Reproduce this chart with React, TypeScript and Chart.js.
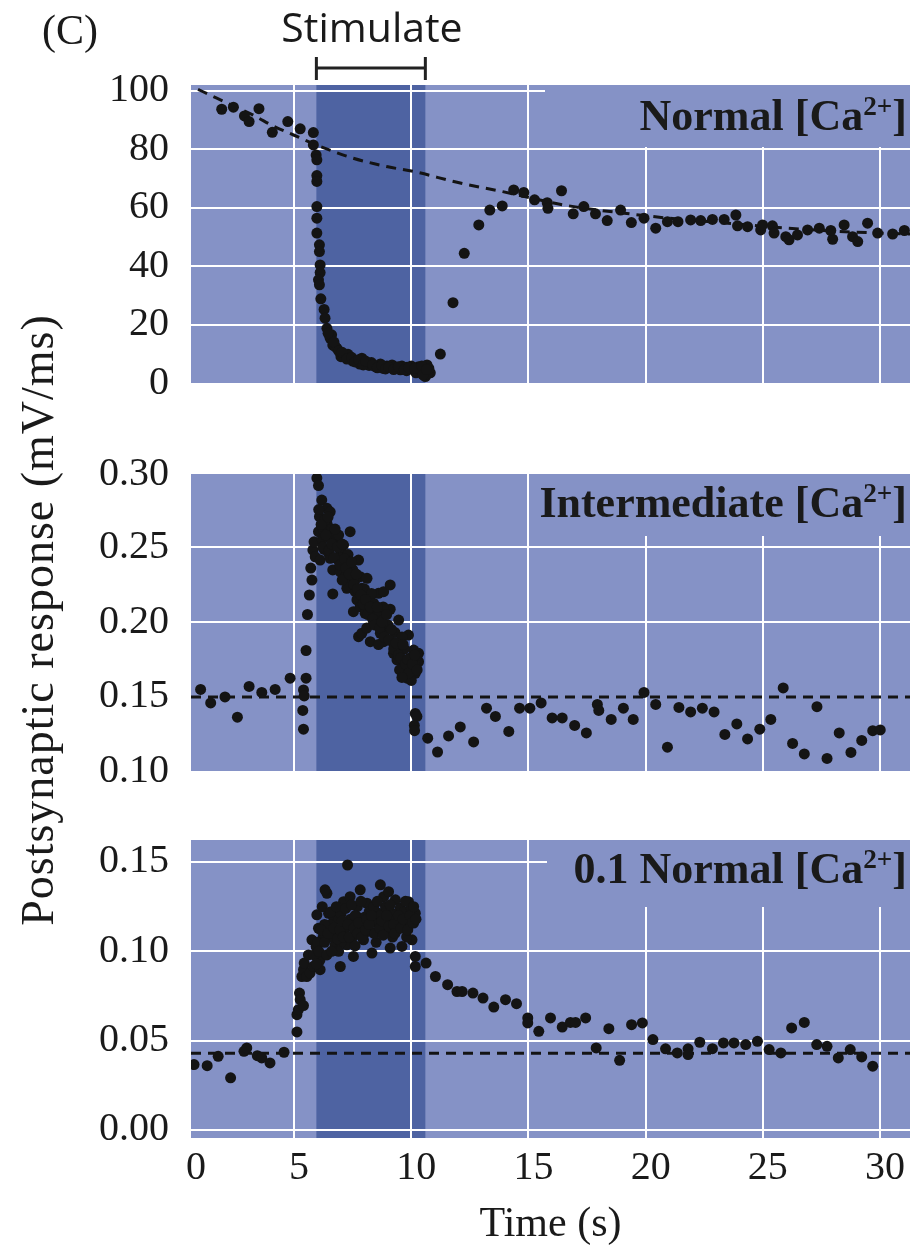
import React, { useEffect, useRef } from 'react';
import { Chart, registerables } from 'chart.js';

Chart.register(...registerables);

// ---------- shared time axis ----------
const TIME_MIN = 0.6;
const TIME_MAX = 31.28;
const TIME_TICKS = [0, 5, 10, 15, 20, 25, 30];
const STIM_START = 5.95;
const STIM_END = 10.6;

// ---------- Panel 1: Normal [Ca2+] ----------
const NORMAL_Y_MIN = 0;
const NORMAL_Y_MAX = 102;
const NORMAL_Y_TICKS = [0, 20, 40, 60, 80, 100];
const NORMAL_T = [
  1.91, 2.41, 2.88, 3.08, 3.5, 4.07, 4.73, 5.26, 5.82,
  5.82, 5.94, 5.97, 5.97, 5.97, 5.97, 5.97, 5.97, 6.08, 6.08, 6.11, 6.11, 6.04, 6.08, 6.14, 6.28, 6.32, 6.4, 6.54, 6.65,
  6.82, 6.97, 7.18, 7.39, 7.68, 7.89, 8.11, 8.46, 8.68, 8.96, 9.18, 9.53, 9.82, 10.1, 10.31, 10.53, 10.67, 10.81, 10.6,
  6.6, 6.75, 7.0, 7.3, 7.5, 7.8, 8.2, 8.3, 8.8, 9.3, 9.6, 9.8, 10.0, 10.2, 10.4, 10.7, 10.75,
  6.45, 6.7, 6.9, 7.05, 7.25, 7.45, 7.6, 7.75, 7.95, 8.05, 8.35, 8.55, 8.75, 8.9, 9.05, 9.25, 9.45, 9.7, 9.9, 10.15, 10.45, 10.5, 10.65,
  11.24, 11.78, 12.26, 12.88, 13.35, 13.88, 14.37, 14.8, 15.26, 15.8, 15.83, 16.41, 16.91, 17.36, 17.86, 18.36, 18.93,
  19.39, 19.93, 20.43, 20.93, 21.38, 21.92, 22.35, 22.85, 23.35, 23.85, 23.92, 24.35, 24.91, 24.99, 25.41, 25.48, 25.98,
  26.12, 26.48, 26.91, 27.41, 27.98, 27.9, 28.47, 28.83, 29.05, 29.47, 29.9, 30.54, 31.04,
];
const NORMAL_R = [
  93.7, 94.4, 91.4, 89.5, 93.9, 85.8, 89.5, 87, 85.7,
  81.5, 78, 76.4, 71, 69, 60.4, 56.4, 51.3, 47.3, 45, 40.4, 37.8, 35.3, 33.6, 28.8, 25.2, 22.2, 18.7, 15.3, 13,
  11.9, 10.2, 9.6, 8.5, 7.3, 8.5, 6.7, 5.6, 6.5, 5.8, 6.2, 4.5, 5.4, 4.5, 5.6, 3.9, 6.2, 3.5, 2.2,
  16.5, 12.5, 9, 9.8, 7.5, 6.5, 6, 7.0, 5, 5.5, 5.8, 4.2, 5.8, 3.5, 4.5, 3.2, 5.0,
  17, 14, 11, 10.5, 8.2, 8.8, 7.2, 8, 6.2, 7.5, 6.2, 5.2, 6.0, 4.8, 5.4, 4.6, 5.6, 4.6, 5.2, 5.0, 5.8, 2.8, 4.6,
  9.9, 27.5, 44.4, 54.1, 59.2, 60.6, 66.1, 65.2, 62.7, 61.7, 59.8, 65.8, 57.9, 60.4, 57.9, 55.6, 59.2,
  54.9, 56.4, 53, 55.2, 55.2, 55.8, 55.6, 56, 56, 57.5, 53.8, 53.5, 52.4, 54.1, 53.8, 51.3, 50.1,
  49, 50.7, 52.4, 53, 49.2, 52.2, 54.1, 50.1, 48.4, 54.7, 51.3, 51, 52.2,
];
const NORMAL_FIT_T = [0.9, 1.7, 2.5, 3.3, 4.1, 5, 6.1, 7.5, 9, 10.1, 12, 13.9, 16.6, 19.2, 21.5, 23.5, 26, 28, 30, 31.28];
const NORMAL_FIT_R = [100.5, 97.5, 94.5, 91.5, 88, 84.8, 81, 77, 74, 72.4, 68.6, 65.5, 60.8, 58, 56, 54.7, 53, 52, 51.3, 51];

// ---------- Panel 2: Intermediate [Ca2+] ----------
const INTER_Y_MIN = 0.0993;
const INTER_Y_MAX = 0.2987;
const INTER_Y_TICKS = [0.1, 0.15, 0.2, 0.25, 0.3];
const INTER_BASELINE = 0.15;
const INTER_T = [
  1.01, 1.44, 2.05, 2.58, 3.08, 3.62, 4.19, 4.83, 5.4, 5.43, 5.37, 5.4, 5.51, 5.51, 5.57, 5.65, 5.76, 5.71, 5.8, 5.85, 5.97, 6.04,
  6.18, 6.4, 6.54, 6.08, 6.04, 6.4, 6.25, 6.54, 5.9, 6.11, 6.28, 6.47, 6.68, 6.82, 7.11, 7.39, 6.97, 6.54, 6.89, 7.25, 7.75,
  6.65, 6.97, 7.18, 7.39, 7.82, 8.11, 6.65, 7.25, 7.61, 7.68, 7.89, 7.53, 7.82, 8.03, 8.18, 8.39, 8.6, 8.82, 9.1, 7.75, 7.89,
  8.25, 8.39, 8.68, 9.1, 8.68, 8.96, 9.46, 8.82, 9.24, 9.88, 9.24, 9.53, 10.1, 9.39, 9.67, 10.1, 10.31, 9.82, 10.17, 9.82, 10.03, 10.31,
  6.3, 6.6, 6.9, 7.0, 7.3, 7.5, 7.6, 8.0, 8.3, 8.5, 8.8, 9.0, 9.3, 9.6, 9.7, 9.95, 10.2, 10.25, 9.5, 10.0, 6.2, 7.05, 8.1, 8.6,
  6.05, 6.15, 6.22, 6.35, 6.45, 6.5, 6.6, 6.7, 6.75, 6.85, 6.95, 7.05, 7.15, 7.2, 7.35, 7.45, 7.55, 7.65, 7.7, 7.85, 7.95,
  8.05, 8.15, 8.25, 8.35, 8.45, 8.55, 8.65, 8.75, 8.85, 8.95, 9.05, 9.15, 9.25, 9.35, 9.45, 9.55, 9.65, 9.75, 9.85, 9.9,
  10.05, 10.15, 10.25, 9.6,
  10.17, 10.24, 10.13, 10.14, 10.7, 11.12, 11.59, 12.09, 12.66, 13.21, 13.59, 14.16, 14.62, 15.06, 15.54, 16.01, 16.44, 16.97,
  17.47, 17.94, 18.0, 18.53, 19.05, 19.47, 19.93, 20.43, 20.93, 21.42, 21.92, 22.42, 22.92, 23.38, 23.89, 24.35, 24.87, 25.34,
  25.87, 26.27, 26.77, 27.31, 27.74, 28.26, 28.76, 29.22, 29.69, 30.01,
];
const INTER_R = [
  0.155, 0.146, 0.15, 0.1365, 0.157, 0.153, 0.155, 0.1625, 0.1547, 0.1507, 0.141, 0.1285, 0.1625, 0.181, 0.205, 0.218, 0.228, 0.236, 0.248, 0.2535, 0.296, 0.291,
  0.2813, 0.2758, 0.2735, 0.2702, 0.2602, 0.2658, 0.2613, 0.2569, 0.2435, 0.2413, 0.2485, 0.2458, 0.2513, 0.2547, 0.2513, 0.2602, 0.248, 0.2425, 0.2413, 0.2391, 0.2413,
  0.2347, 0.2335, 0.2302, 0.2269, 0.2302, 0.2291, 0.2187, 0.2225, 0.2202, 0.2147, 0.2225, 0.2069, 0.2102, 0.2058, 0.2158, 0.2125, 0.2191, 0.2202, 0.2247, 0.1902, 0.1925,
  0.1869, 0.1991, 0.2035, 0.2085, 0.1925, 0.1958, 0.2013, 0.1869, 0.1858, 0.1913, 0.1791, 0.1825, 0.1813, 0.1747, 0.1725, 0.1747, 0.1735, 0.168, 0.1658, 0.1625, 0.1692, 0.1791,
  0.268, 0.262, 0.258, 0.243, 0.245, 0.235, 0.228, 0.222, 0.219, 0.207, 0.21, 0.198, 0.193, 0.19, 0.182, 0.176, 0.17, 0.178, 0.168, 0.161, 0.255, 0.228, 0.196, 0.185,
  0.275, 0.265, 0.25, 0.258, 0.27, 0.248, 0.252, 0.243, 0.262, 0.25, 0.238, 0.252, 0.242, 0.236, 0.232, 0.24, 0.225, 0.232, 0.222, 0.218, 0.212,
  0.215, 0.205, 0.21, 0.202, 0.198, 0.21, 0.196, 0.2, 0.19, 0.205, 0.188, 0.195, 0.182, 0.186, 0.178, 0.176, 0.185, 0.172, 0.175, 0.166,
  0.172, 0.178, 0.168, 0.163,
  0.139, 0.137, 0.131, 0.1275, 0.1225, 0.1133, 0.124, 0.13, 0.12, 0.1425, 0.137, 0.127, 0.1425, 0.1425, 0.146, 0.136, 0.136, 0.131,
  0.126, 0.145, 0.141, 0.135, 0.1425, 0.135, 0.153, 0.145, 0.1165, 0.143, 0.14, 0.1425, 0.14, 0.125, 0.132, 0.122, 0.1285, 0.135,
  0.156, 0.119, 0.112, 0.1435, 0.109, 0.126, 0.113, 0.121, 0.1275, 0.128,
];

// ---------- Panel 3: 0.1 Normal [Ca2+] ----------
const LOW_Y_MIN = -0.0045;
const LOW_Y_MAX = 0.1623;
const LOW_Y_TICKS = [0, 0.05, 0.1, 0.15];
const LOW_BASELINE = 0.043;
const LOW_T = [
  0.73, 1.29, 1.76, 2.29, 2.86, 2.98, 3.43, 3.62, 3.97, 4.57,
  5.12, 5.12, 5.18, 5.23, 5.26, 5.4, 5.33, 5.4, 5.43, 5.54, 5.61, 5.68, 5.82, 5.76, 5.94, 6.11, 5.97, 6.18, 6.25, 6.04,
  6.4, 6.32, 6.47, 6.68, 6.54, 6.82, 6.75, 6.97, 7.11, 7.25, 7.39, 7.28, 7.53, 7.82, 7.68, 7.96, 8.11, 8.32, 8.25, 8.39,
  8.68, 8.6, 8.82, 8.96, 9.03, 9.1, 9.32, 9.39, 9.53, 9.6, 9.74, 9.88, 9.96, 10.03, 10.1, 10.17, 10.17, 10.17,
  6.0, 6.3, 6.6, 6.9, 7.0, 7.2, 7.4, 7.5, 7.7, 7.9, 8.0, 8.2, 8.4, 8.5, 8.7, 8.9, 9.0, 9.2, 9.4, 9.5, 9.7, 9.8, 10.0,
  6.1, 6.9, 7.6, 8.5, 9.2, 6.2, 7.0, 9.9, 8.1,
  5.85, 5.95, 6.05, 6.15, 6.3, 6.4, 6.45, 6.55, 6.6, 6.7, 6.8, 6.85, 6.95, 7.05, 7.1, 7.2, 7.3, 7.35, 7.45, 7.55, 7.6, 7.7,
  7.75, 7.85, 7.9, 8.05, 8.1, 8.2, 8.3, 8.45, 8.55, 8.65, 8.75, 8.8, 8.95, 9.05, 9.1, 9.25, 9.3, 9.45, 9.55, 9.65, 9.75,
  9.85, 9.95, 10.05, 10.1, 10.2,
  10.63, 11.03, 11.55, 11.95, 12.17, 12.63, 13.06, 13.52, 14.02, 14.49, 14.97, 14.97, 15.44, 15.94, 16.44, 16.79, 17.01,
  17.44, 17.89, 18.43, 18.89, 19.4, 19.86, 20.31, 20.85, 21.35, 21.81, 21.81, 22.31, 22.85, 23.32, 23.77, 24.27, 24.77,
  25.27, 25.77, 26.23, 26.77, 27.3, 27.74, 28.22, 28.73, 29.22, 29.69,
];
const LOW_R = [
  0.0366, 0.036, 0.0412, 0.0292, 0.044, 0.0459, 0.0416, 0.0403, 0.0375, 0.0435,
  0.0549, 0.0645, 0.0673, 0.0766, 0.0729, 0.0696, 0.0859, 0.0897, 0.0934, 0.0859, 0.098, 0.0878, 0.0915, 0.1064, 0.1027, 0.0897, 0.1204, 0.098, 0.1083, 0.1129,
  0.1325, 0.1344, 0.1213, 0.1194, 0.1148, 0.111, 0.1036, 0.0915, 0.1278, 0.1036, 0.1306, 0.1483, 0.0971, 0.1344, 0.1194, 0.1064, 0.1269, 0.099, 0.1158, 0.1102,
  0.1372, 0.1213, 0.1306, 0.112, 0.1334, 0.1018, 0.1288, 0.1176, 0.1241, 0.1027, 0.1139, 0.1278, 0.1194, 0.1064, 0.1158, 0.1213, 0.0971, 0.0915,
  0.105, 0.115, 0.108, 0.118, 0.105, 0.113, 0.118, 0.108, 0.125, 0.115, 0.119, 0.122, 0.125, 0.116, 0.12, 0.125, 0.117, 0.121, 0.112, 0.116, 0.122, 0.108, 0.124,
  0.095, 0.1, 0.103, 0.105, 0.108, 0.125, 0.121, 0.115, 0.111,
  0.098, 0.093, 0.1, 0.112, 0.105, 0.098, 0.11, 0.122, 0.1, 0.113, 0.125, 0.107, 0.112, 0.117, 0.108, 0.124, 0.115, 0.108, 0.126, 0.113, 0.12, 0.11,
  0.116, 0.128, 0.108, 0.112, 0.118, 0.115, 0.12, 0.11, 0.128, 0.113, 0.117, 0.109, 0.12, 0.114, 0.126, 0.115, 0.11, 0.12, 0.113, 0.118, 0.128,
  0.112, 0.12, 0.116, 0.125, 0.118,
  0.0934, 0.0859, 0.0813, 0.0775, 0.0775, 0.0766, 0.0738, 0.0688, 0.0729, 0.0707, 0.0627, 0.0599, 0.0552, 0.0627, 0.0576, 0.0602, 0.0602,
  0.0627, 0.0459, 0.0567, 0.039, 0.0589, 0.0599, 0.0506, 0.0454, 0.0431, 0.0454, 0.0422, 0.0491, 0.0455, 0.0487, 0.0487, 0.0478, 0.0496,
  0.045, 0.0431, 0.0571, 0.0602, 0.0478, 0.0468, 0.0403, 0.045, 0.0409, 0.0357,
];

// ---------- style ----------
const SERIF = "'Liberation Serif', 'Times New Roman', serif";
const SANS = "'Open Sans', 'Liberation Sans', sans-serif";
const INK = '#1a1a1a';
const BG = '#8592c6';
const BAND = '#4e63a2';
const GRID = '#ffffff';
const TRANSPARENT = 'rgba(0,0,0,0)';

const clamp = (v: number, lo: number, hi: number) => Math.min(Math.max(v, lo), hi);
const zip = (xs: number[], ys: number[]) => xs.map((x, i) => ({ x, y: ys[i] }));

const decorPlugin = {
  id: 'decor',
  beforeDraw(chart: any, _args: any, opts: any) {
    const { ctx, chartArea: a, scales } = chart;
    ctx.save();
    ctx.fillStyle = BG;
    ctx.fillRect(a.left, a.top, a.right - a.left, a.bottom - a.top);
    const x0 = scales.x.getPixelForValue(STIM_START);
    const x1 = scales.x.getPixelForValue(STIM_END);
    ctx.fillStyle = BAND;
    ctx.fillRect(x0, a.top, x1 - x0, a.bottom - a.top);
    if (opts.bracket) {
      ctx.strokeStyle = '#222';
      ctx.lineWidth = 3;
      ctx.beginPath();
      ctx.moveTo(x0, a.top - 28);
      ctx.lineTo(x0, a.top - 5);
      ctx.moveTo(x1, a.top - 28);
      ctx.lineTo(x1, a.top - 5);
      ctx.moveTo(x0, a.top - 17);
      ctx.lineTo(x1, a.top - 17);
      ctx.stroke();
    }
    ctx.restore();
  },
  beforeDatasetsDraw(chart: any, _args: any, opts: any) {
    const { ctx, chartArea: a } = chart;
    ctx.save();
    ctx.fillStyle = BG;
    ctx.fillRect(a.right - opts.boxW, a.top, opts.boxW, opts.boxH);
    ctx.restore();
  },
};

type PanelProps = {
  top: number;
  height: number;
  padTop: number;
  padBottom: number;
  xAxisHeight: number;
  showX: boolean;
  yMin: number;
  yMax: number;
  yTicks: number[];
  yHidden: number[];
  yFmt: (v: number) => string;
  points: { x: number; y: number }[];
  line: { x: number; y: number }[];
  boxW: number;
  boxH: number;
  bracket?: boolean;
};

function Panel(p: PanelProps) {
  const ref = useRef<HTMLCanvasElement>(null);
  useEffect(() => {
    const tickFont = { family: SERIF, size: 40 };
    const chart = new Chart(ref.current as HTMLCanvasElement, {
      type: 'scatter',
      data: {
        datasets: [
          {
            data: p.points,
            pointRadius: 5.5,
            pointBackgroundColor: '#141414',
            pointBorderWidth: 0,
            showLine: false,
          } as any,
          {
            data: p.line,
            showLine: true,
            pointRadius: 0,
            borderColor: '#141414',
            borderWidth: 3,
            borderDash: [10, 7],
            cubicInterpolationMode: 'monotone',
          } as any,
        ],
      },
      options: {
        animation: false,
        responsive: false,
        maintainAspectRatio: false,
        devicePixelRatio: 1,
        events: [],
        layout: { autoPadding: false, padding: { top: p.padTop, bottom: p.padBottom, left: 0, right: 0 } },
        plugins: {
          legend: { display: false },
          tooltip: { enabled: false },
          decor: { bracket: !!p.bracket, boxW: p.boxW, boxH: p.boxH },
        } as any,
        scales: {
          x: {
            type: 'linear',
            min: TIME_MIN,
            max: TIME_MAX,
            afterBuildTicks: (s: any) => {
              s.ticks = TIME_TICKS.map((v) => ({ value: clamp(v, s.min, s.max) }));
            },
            afterFit: (s: any) => {
              s.height = p.xAxisHeight;
              s.paddingLeft = 0;
              s.paddingRight = 0;
              s.paddingTop = 0;
              s.paddingBottom = 0;
            },
            ticks: {
              display: p.showX,
              autoSkip: false,
              maxRotation: 0,
              padding: 6,
              labelOffset: 5,
              color: INK,
              font: tickFont,
              callback: (_v: any, i: number) => String(TIME_TICKS[i]),
            },
            grid: {
              drawTicks: false,
              lineWidth: 2,
              color: (c: any) => {
                const v = TIME_TICKS[c.index];
                return v === undefined || v <= TIME_MIN || v >= TIME_MAX ? TRANSPARENT : GRID;
              },
            },
            border: { display: false },
            title: {
              display: p.showX,
              text: 'Time (s)',
              color: INK,
              font: { family: SERIF, size: 42 },
              padding: { top: 0, bottom: 4 },
            },
          },
          y: {
            type: 'linear',
            min: p.yMin,
            max: p.yMax,
            afterBuildTicks: (s: any) => {
              s.ticks = p.yTicks.map((v) => ({ value: clamp(v, s.min, s.max) }));
            },
            afterFit: (s: any) => {
              s.width = 191;
              s.paddingTop = 0;
              s.paddingBottom = 0;
              s.paddingLeft = 0;
              s.paddingRight = 0;
            },
            ticks: {
              autoSkip: false,
              padding: 22,
              color: INK,
              font: tickFont,
              callback: (_v: any, i: number) => p.yFmt(p.yTicks[i]),
            },
            grid: {
              drawTicks: false,
              lineWidth: 2,
              color: (c: any) => {
                const v = p.yTicks[c.index];
                if (v === undefined || v <= p.yMin || v >= p.yMax) return TRANSPARENT;
                if (p.yHidden.includes(v)) return TRANSPARENT;
                return GRID;
              },
            },
            border: { display: false },
          },
        },
      } as any,
      plugins: [decorPlugin as any],
    });
    return () => chart.destroy();
  }, []);
  return (
    <canvas
      ref={ref}
      width={910}
      height={p.height}
      style={{ position: 'absolute', left: 0, top: p.top, width: 910, height: p.height }}
    />
  );
}

const supStyle: React.CSSProperties = {
  fontSize: '0.62em',
  verticalAlign: 'baseline',
  position: 'relative',
  top: '-0.55em',
};

function PanelLabel({ top, children }: { top: number; children: React.ReactNode }) {
  return (
    <div
      style={{
        position: 'absolute',
        right: 3,
        top,
        fontFamily: SERIF,
        fontWeight: 'bold',
        fontSize: 44,
        lineHeight: '48px',
        color: INK,
        whiteSpace: 'nowrap',
      }}
    >
      {children}
    </div>
  );
}

export default function App() {
  const normalPts = zip(NORMAL_T, NORMAL_R);
  const normalFit = zip(NORMAL_FIT_T, NORMAL_FIT_R);
  const interPts = zip(INTER_T, INTER_R);
  const interBase = [
    { x: TIME_MIN, y: INTER_BASELINE },
    { x: TIME_MAX, y: INTER_BASELINE },
  ];
  const lowPts = zip(LOW_T, LOW_R);
  const lowBase = [
    { x: TIME_MIN, y: LOW_BASELINE },
    { x: TIME_MAX, y: LOW_BASELINE },
  ];
  const fmt2 = (v: number) => v.toFixed(2);
  return (
    <div
      style={{
        position: 'absolute',
        left: 0,
        top: 0,
        width: 910,
        height: 1254,
        background: '#fff',
        overflow: 'hidden',
      }}
    >
      <Panel
        top={0}
        height={410}
        padTop={85}
        padBottom={27}
        xAxisHeight={0}
        showX={false}
        yMin={NORMAL_Y_MIN}
        yMax={NORMAL_Y_MAX}
        yTicks={NORMAL_Y_TICKS}
        yHidden={[]}
        yFmt={(v) => String(v)}
        points={normalPts}
        line={normalFit}
        boxW={365}
        boxH={62}
        bracket
      />
      <Panel
        top={430}
        height={370}
        padTop={44}
        padBottom={27}
        xAxisHeight={0}
        showX={false}
        yMin={INTER_Y_MIN}
        yMax={INTER_Y_MAX}
        yTicks={INTER_Y_TICKS}
        yHidden={[INTER_BASELINE]}
        yFmt={fmt2}
        points={interPts}
        line={interBase}
        boxW={378}
        boxH={62}
      />
      <Panel
        top={800}
        height={454}
        padTop={40}
        padBottom={0}
        xAxisHeight={116}
        showX={true}
        yMin={LOW_Y_MIN}
        yMax={LOW_Y_MAX}
        yTicks={LOW_Y_TICKS}
        yHidden={[]}
        yFmt={fmt2}
        points={lowPts}
        line={lowBase}
        boxW={363}
        boxH={67}
      />

      <div style={{ position: 'absolute', left: 42, top: 6, fontFamily: SERIF, fontSize: 42, lineHeight: '48px', color: INK }}>
        (C)
      </div>
      <div
        style={{
          position: 'absolute',
          left: 272,
          width: 200,
          top: 2,
          textAlign: 'center',
          fontFamily: SANS,
          fontSize: 41,
          lineHeight: '48px',
          color: INK,
        }}
      >
        Stimulate
      </div>
      <div
        style={{
          position: 'absolute',
          left: 38 - 360,
          top: 620 - 25,
          width: 720,
          height: 50,
          lineHeight: '50px',
          textAlign: 'center',
          transform: 'rotate(-90deg)',
          transformOrigin: 'center center',
          fontFamily: SERIF,
          fontSize: 46,
          letterSpacing: 1,
          color: INK,
          whiteSpace: 'nowrap',
        }}
      >
        Postsynaptic response (mV/ms)
      </div>

      <PanelLabel top={92}>
        Normal [Ca<span style={supStyle}>2+</span>]
      </PanelLabel>
      <PanelLabel top={479}>
        Intermediate [Ca<span style={supStyle}>2+</span>]
      </PanelLabel>
      <PanelLabel top={845}>
        0.1 Normal [Ca<span style={supStyle}>2+</span>]
      </PanelLabel>
    </div>
  );
}
